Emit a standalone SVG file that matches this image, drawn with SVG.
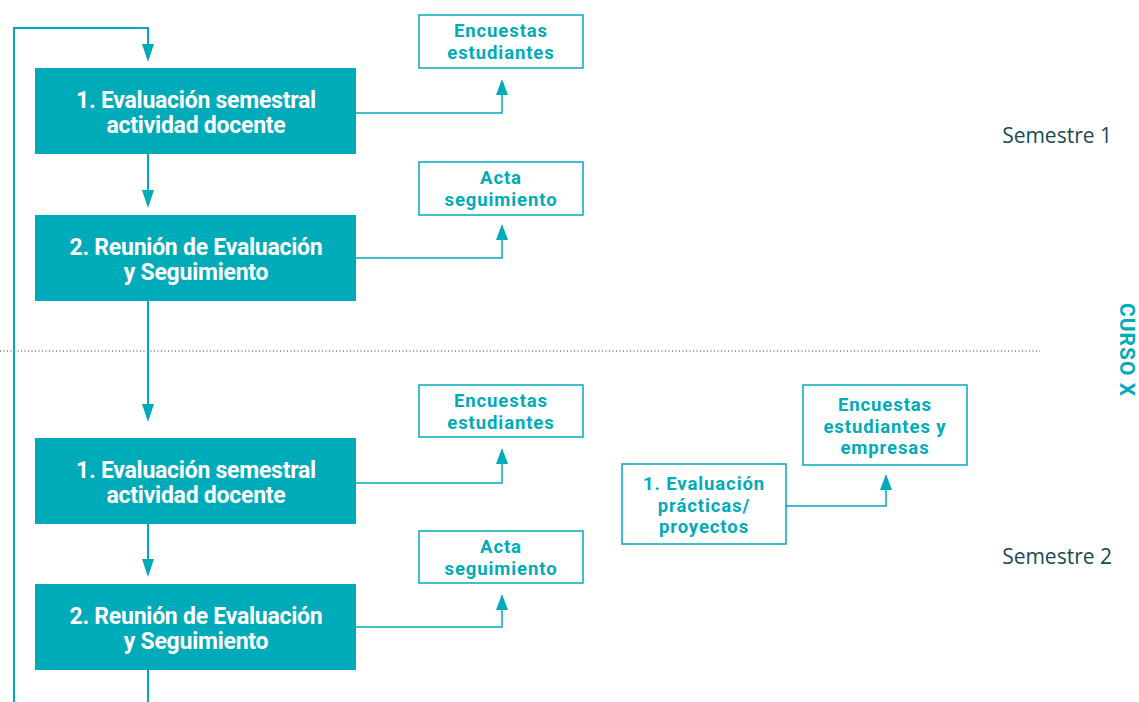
<svg xmlns="http://www.w3.org/2000/svg" width="1139" height="702" viewBox="0 0 1139 702">
<style>
.main{fill:#00abb9}
.mt{font-family:Roboto,"Liberation Sans",sans-serif;font-weight:700;font-size:23px;fill:#fff;text-anchor:middle;letter-spacing:-0.25px}
.out{fill:#fff;stroke:#00abb9;stroke-width:1.5}
.ot{font-family:Roboto,"Liberation Sans",sans-serif;font-weight:700;font-size:18.5px;fill:#00abb9;text-anchor:middle;letter-spacing:0.9px}
.ln{fill:none;stroke:#00abb9;stroke-width:2}
.thin{fill:none;stroke:#00abb9;stroke-width:1.5}
.ah{fill:#00abb9}
.sem{font-family:"Open Sans","Liberation Sans",sans-serif;font-size:21px;fill:#174a55;text-anchor:end}
</style>
<line x1="0" y1="351" x2="1040" y2="351" stroke="#333" stroke-width="1" stroke-dasharray="1,2.5"/>
<g id="connectors">
<path class="ln" d="M14,702 V28 H148 V44"/>
<path class="ah" d="M142,44 L154,44 L148,62 Z"/>
<path class="ln" d="M148,154 V190"/>
<path class="ah" d="M142,190 L154,190 L148,208 Z"/>
<path class="ln" d="M148,301 V404"/>
<path class="ah" d="M142,404 L154,404 L148,422 Z"/>
<path class="ln" d="M148,524 V559"/>
<path class="ah" d="M142,559 L154,559 L148,577 Z"/>
<path class="ln" d="M148,670 V702"/>
<path class="thin" d="M356,113 H502 V95"/>
<path class="ah" d="M496,95 L508,95 L502,79 Z"/>
<path class="thin" d="M356,258 H502 V240"/>
<path class="ah" d="M496,240 L508,240 L502,224 Z"/>
<path class="thin" d="M356,483 H502 V464"/>
<path class="ah" d="M496,464 L508,464 L502,448 Z"/>
<path class="thin" d="M356,627 H502 V610"/>
<path class="ah" d="M496,610 L508,610 L502,594 Z"/>
<path class="thin" d="M786,506 H886 V490"/>
<path class="ah" d="M880,490 L892,490 L886,474 Z"/>
</g>
<g id="n1">
<rect class="main" x="35" y="68" width="321" height="86"/>
<text class="mt" x="196" y="108">1. Evaluación semestral</text>
<text class="mt" x="196" y="133">actividad docente</text>
</g>
<g id="n2">
<rect class="main" x="35" y="215" width="321" height="86"/>
<text class="mt" x="196" y="255">2. Reunión de Evaluación</text>
<text class="mt" x="196" y="280">y Seguimiento</text>
</g>
<g id="n3">
<rect class="main" x="35" y="438" width="321" height="86"/>
<text class="mt" x="196" y="478">1. Evaluación semestral</text>
<text class="mt" x="196" y="503">actividad docente</text>
</g>
<g id="n4">
<rect class="main" x="35" y="584" width="321" height="86"/>
<text class="mt" x="196" y="624">2. Reunión de Evaluación</text>
<text class="mt" x="196" y="649">y Seguimiento</text>
</g>
<g id="o1">
<rect class="out" x="419" y="15" width="164" height="53"/>
<text class="ot" x="501" y="37">Encuestas</text>
<text class="ot" x="501" y="59">estudiantes</text>
</g>
<g id="o2">
<rect class="out" x="419" y="162" width="164" height="53"/>
<text class="ot" x="501" y="184">Acta</text>
<text class="ot" x="501" y="206">seguimiento</text>
</g>
<g id="o3">
<rect class="out" x="419" y="385" width="164" height="52"/>
<text class="ot" x="501" y="407">Encuestas</text>
<text class="ot" x="501" y="429">estudiantes</text>
</g>
<g id="o4">
<rect class="out" x="419" y="531" width="164" height="52"/>
<text class="ot" x="501" y="553">Acta</text>
<text class="ot" x="501" y="575">seguimiento</text>
</g>
<g id="p1">
<rect class="out" x="622" y="464" width="164" height="80"/>
<text class="ot" x="704" y="490">1. Evaluación</text>
<text class="ot" x="704" y="511.5">prácticas/</text>
<text class="ot" x="704" y="533">proyectos</text>
</g>
<g id="p2">
<rect class="out" x="803" y="385" width="164" height="80"/>
<text class="ot" x="885" y="411">Encuestas</text>
<text class="ot" x="885" y="432.5">estudiantes y</text>
<text class="ot" x="885" y="454">empresas</text>
</g>
<text class="sem" x="1112" y="143">Semestre 1</text>
<text class="sem" x="1112" y="564">Semestre 2</text>
<text x="1120" y="350" transform="rotate(90 1120 350)" font-family="Roboto,'Liberation Sans',sans-serif" font-weight="700" font-size="21" fill="#00abb9" text-anchor="middle" letter-spacing="1">CURSO X</text>
</svg>
